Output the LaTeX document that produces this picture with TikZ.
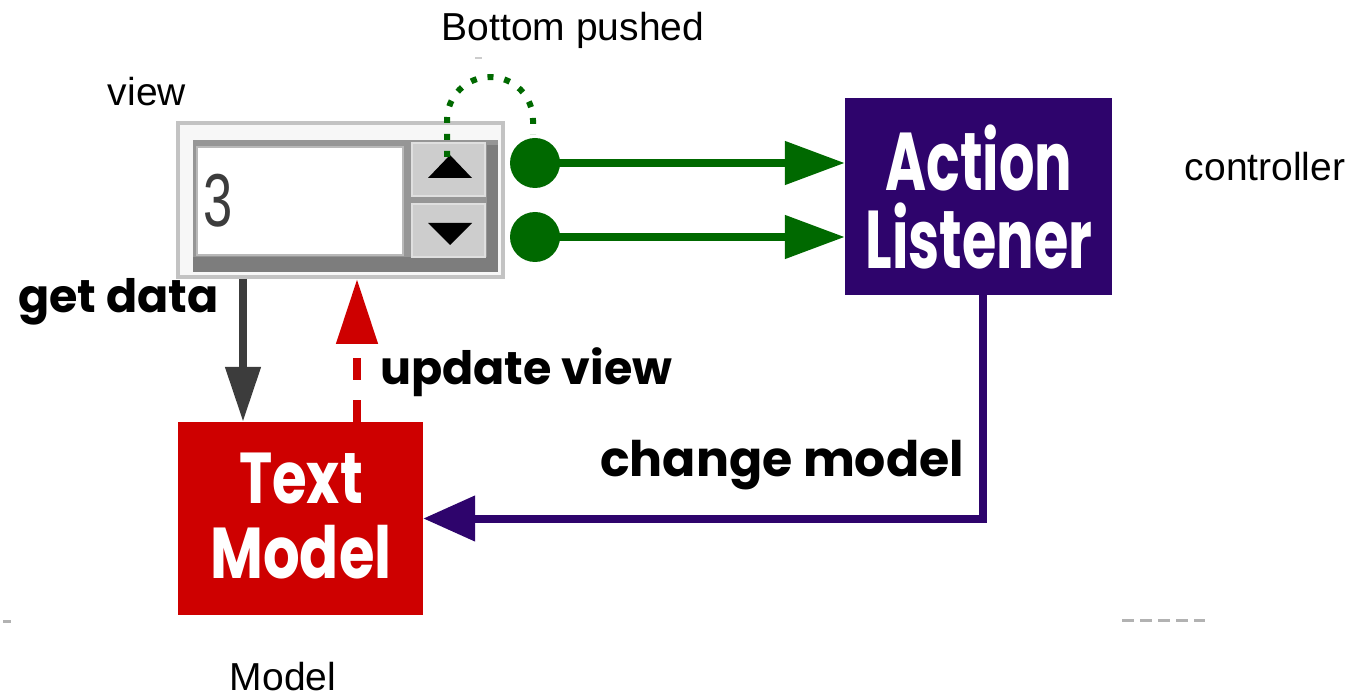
\documentclass[tikz,border=0pt]{standalone}
\usepackage{fontspec}
\setmainfont{Liberation Sans}
\newfontfamily\geofont{Poppins}
\usepackage{graphicx}
\usetikzlibrary{arrows.meta,calc}
\definecolor{mvgreen}{RGB}{0,105,0}
\definecolor{mvpurple}{RGB}{46,4,108}
\definecolor{mvred}{RGB}{206,0,0}
\definecolor{mvgray}{RGB}{60,60,60}
\definecolor{frameout}{RGB}{195,195,195}
\definecolor{framein}{RGB}{150,150,150}
\definecolor{framebot}{RGB}{125,125,125}
\definecolor{btn}{RGB}{205,205,205}
\begin{document}
\begin{tikzpicture}[x=1pt,y=-1pt,
  lbl/.style={font=\fontsize{39}{44}\selectfont, inner sep=0pt},
  blbl/.style={font=\geofont\bfseries\fontsize{46}{50}\selectfont, inner sep=0pt},
  boxtxt/.style={font=\geofont\bfseries\fontsize{72}{75}\selectfont, text=white, align=center, inner sep=0pt},
  garrow/.style={draw=mvgreen, line width=8pt, -{Triangle[length=60pt,width=42pt]}},
  dotbtn/.style={circle, fill=mvgreen, minimum size=50pt, inner sep=0pt},
  btnbox/.style={fill=btn, draw=gray!25, line width=2pt, minimum width=73pt, minimum height=53pt, inner sep=0pt}
]
\useasboundingbox (0,0) rectangle (1354,700);

% spinner widget
\node[draw=frameout, line width=4pt, fill=gray!6, minimum width=325pt, minimum height=154pt, inner sep=0pt] (spin) at (340.5,200) {};
\fill[framein] (193,140) rectangle (498,272);
\fill[framebot] (193,257) rectangle (498,272);
\fill[framebot] (487,145) rectangle (498,272);
\node[fill=white, draw=gray!55, line width=1.5pt, minimum width=206pt, minimum height=108pt, inner sep=0pt] (field) at (300,201) {};
\node[font=\fontsize{75}{75}\selectfont, text=mvgray, inner sep=0pt, anchor=west] (val) at (203,201) {\scalebox{0.7}[1]{3}};
\node[btnbox] (up) at (448.5,170) {};
\node[btnbox] (down) at (448.5,231) {};
\fill[black] (428,178) -- (472,178) -- (450,155) -- cycle;
\fill[black] (428,223) -- (472,223) -- (450,245) -- cycle;
\coordinate (uptop) at (447,157);

% green dots
\node[dotbtn] (d1) at (535,163) {};
\node[dotbtn] (d2) at (535,237) {};
\coordinate (arcend) at (533,135);

% boxes
\node[fill=mvpurple, minimum width=267pt, minimum height=197pt, inner sep=0pt] (al) at (978.5,196.5) {};
\node[boxtxt, font=\geofont\bfseries\fontsize{82}{78}\selectfont] (altxt) at (979,197) {\scalebox{0.68}[1]{Action}\\\scalebox{0.68}[1]{Listener}};
\node[fill=mvred, minimum width=245pt, minimum height=193pt, inner sep=0pt] (tm) at (300.5,518.5) {};
\node[boxtxt] (tmtxt) at (301,516) {\scalebox{0.78}[1]{Text}\\\scalebox{0.8}[1]{Model}};

% connectors
\draw[mvgreen, line width=6pt, dash pattern=on 6pt off 11pt]
  (uptop) -- (447,120) arc[start angle=180, end angle=360, radius=43] -- (arcend);
\draw[garrow] (d1.center) -- (d1 -| al.west);
\draw[garrow] (d2.center) -- (d2 -| al.west);
\draw[mvgray, line width=8pt, -{Triangle[length=55pt,width=34pt]}] (spin.south -| 243,0) -- (tm.north -| 243,0);
\draw[mvred, line width=8pt, dash pattern=on 22pt off 20pt, -{Triangle[length=65pt,width=40pt]}] (tm.north -| 357,0) -- (spin.south -| 357,0);
\draw[mvpurple, line width=8pt, -{Triangle[length=52pt,width=44pt]}] (al.south -| 983,0) |- (tm.east);

% labels
\node[lbl] (lview) at (147,92) {view};
\node[lbl] (lbottom) at (573,30) {Bottom pushed};
\node[lbl] (lctrl) at (1265,167) {controller};
\node[lbl, anchor=base] (lmodel) at (283,690) {Model};
\node[blbl, anchor=west] (lget) at (18,302) {get data};
\node[blbl, anchor=west] (lupd) at (380,372) {update view};
\node[blbl, anchor=west, font=\geofont\bfseries\fontsize{49}{52}\selectfont] (lchg) at (600,465) {change model};

% faint artifacts
\draw[gray!60, line width=3pt, dash pattern=on 12pt off 6pt] (1122,620) -- (1205,620);
\draw[gray!60, line width=3pt] (3,621) -- (11,621);
\draw[gray!40, line width=2pt] (475,58) -- (482,58);
\end{tikzpicture}
\end{document}
